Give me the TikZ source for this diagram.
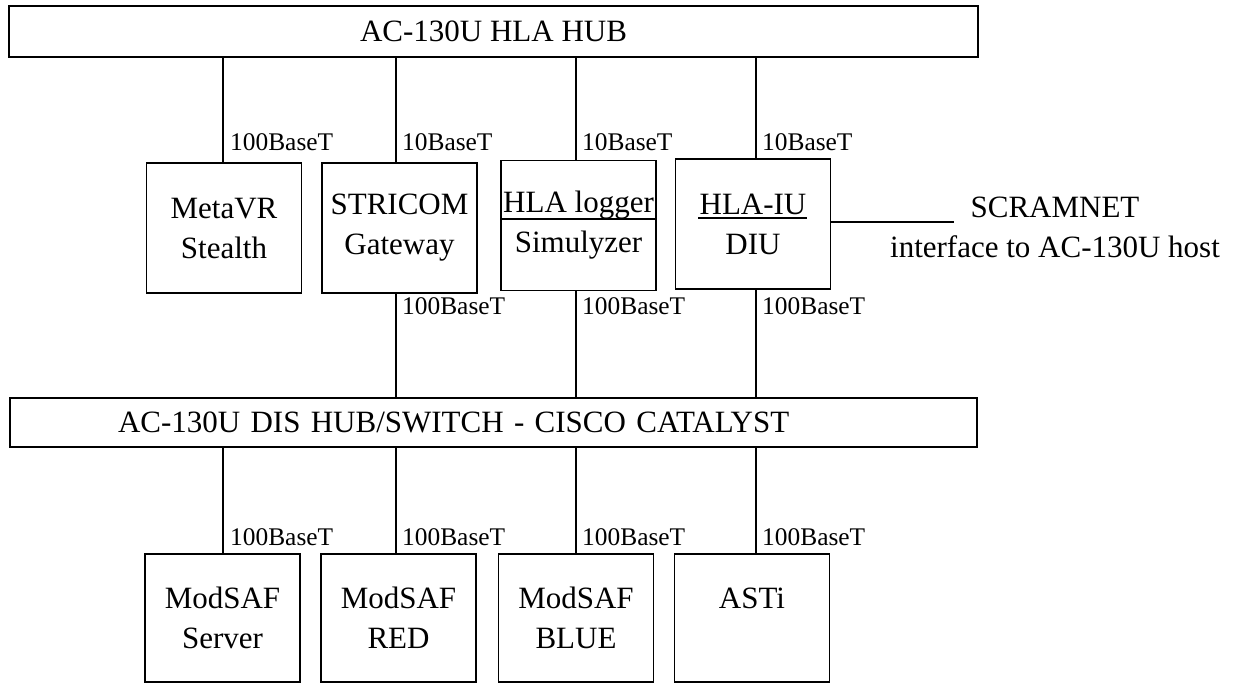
\documentclass[tikz,border=0pt]{standalone}
\usepackage{fontspec}
\setmainfont{Liberation Serif}
\begin{document}
\begin{tikzpicture}[x=1pt,y=-1pt,
  hub/.style={draw, line width=1.8pt, inner ysep=0pt, font=\fontsize{31}{40}\selectfont},
  unit/.style={draw, line width=1.8pt, minimum width=155pt, minimum height=130pt, inner sep=0pt, align=center, font=\fontsize{31}{40}\selectfont},
  lowunit/.style={unit, minimum height=128pt},
  lbl/.style={anchor=base west, inner sep=0pt, font=\fontsize{25.4}{30}\selectfont},
  link/.style={line width=1.5pt},
  note/.style={align=center, inner sep=0pt, font=\fontsize{31}{40}\selectfont}]
\useasboundingbox (0,0) rectangle (1238,683);

% hubs
\node[hub, minimum width=969pt, minimum height=51pt] (hla) at (493.5,31.5) {AC-130U HLA HUB};
\node[hub, minimum height=49pt, text width=751pt, align=left, inner xsep=108pt] (dis) at (493.5,422.5) {AC-130U DIS HUB/SWITCH - CISCO CATALYST};

% columns
\coordinate (c1) at (223,0);
\coordinate (c2) at (396,0);
\coordinate (c3) at (576,0);
\coordinate (c4) at (756,0);

% first row
\node[unit] (meta) at (224,228) {MetaVR\\Stealth};
\node[unit] (stri) at (399.5,228) {STRICOM\\Gateway};
\node[unit] (logger) at (578.5,225.5) {HLA logger\\Simulyzer};
\node[unit] (hlaiu) at (753,224) {HLA-IU\\DIU};

% second row
\node[lowunit] (server) at (222.5,618) {ModSAF\\Server};
\node[lowunit] (red) at (398.5,618) {ModSAF\\RED};
\node[lowunit] (blue) at (576,618) {ModSAF\\BLUE};
\node[lowunit] (asti) at (752,618) {ASTi\\~};

% dividers / underlines
\draw[line width=1.5pt] (logger.west |- 0,219) -- (logger.east |- 0,219);
\draw[line width=1.3pt] (698,218) -- (807,218);

% connectors hub1 -> row 1
\draw[link] (c1 |- hla.south) -- (c1 |- meta.north);
\draw[link] (c2 |- hla.south) -- (c2 |- stri.north);
\draw[link] (c3 |- hla.south) -- (c3 |- logger.north);
\draw[link] (c4 |- hla.south) -- (c4 |- hlaiu.north);

% row 1 -> hub2
\draw[link] (c2 |- stri.south) -- (c2 |- dis.north);
\draw[link] (c3 |- logger.south) -- (c3 |- dis.north);
\draw[link] (c4 |- hlaiu.south) -- (c4 |- dis.north);

% hub2 -> row 2
\draw[link] (c1 |- dis.south) -- (c1 |- server.north);
\draw[link] (c2 |- dis.south) -- (c2 |- red.north);
\draw[link] (c3 |- dis.south) -- (c3 |- blue.north);
\draw[link] (c4 |- dis.south) -- (c4 |- asti.north);

% labels
\node[lbl] (l1) at (230,150) {100BaseT};
\node[lbl] (l2) at (402,150) {10BaseT};
\node[lbl] (l3) at (582,150) {10BaseT};
\node[lbl] (l4) at (762,150) {10BaseT};
\node[lbl] (m2) at (402,314) {100BaseT};
\node[lbl] (m3) at (582,314) {100BaseT};
\node[lbl] (m4) at (762,314) {100BaseT};
\node[lbl] (b1) at (230,545) {100BaseT};
\node[lbl] (b2) at (402,545) {100BaseT};
\node[lbl] (b3) at (582,545) {100BaseT};
\node[lbl] (b4) at (762,545) {100BaseT};

% SCRAMNET
\node[note] (scram) at (1055,227) {SCRAMNET\\interface to AC-130U host};
\coordinate (scrend) at (954,222);
\draw[link] (hlaiu.east |- scrend) -- (scrend);
\end{tikzpicture}
\end{document}
